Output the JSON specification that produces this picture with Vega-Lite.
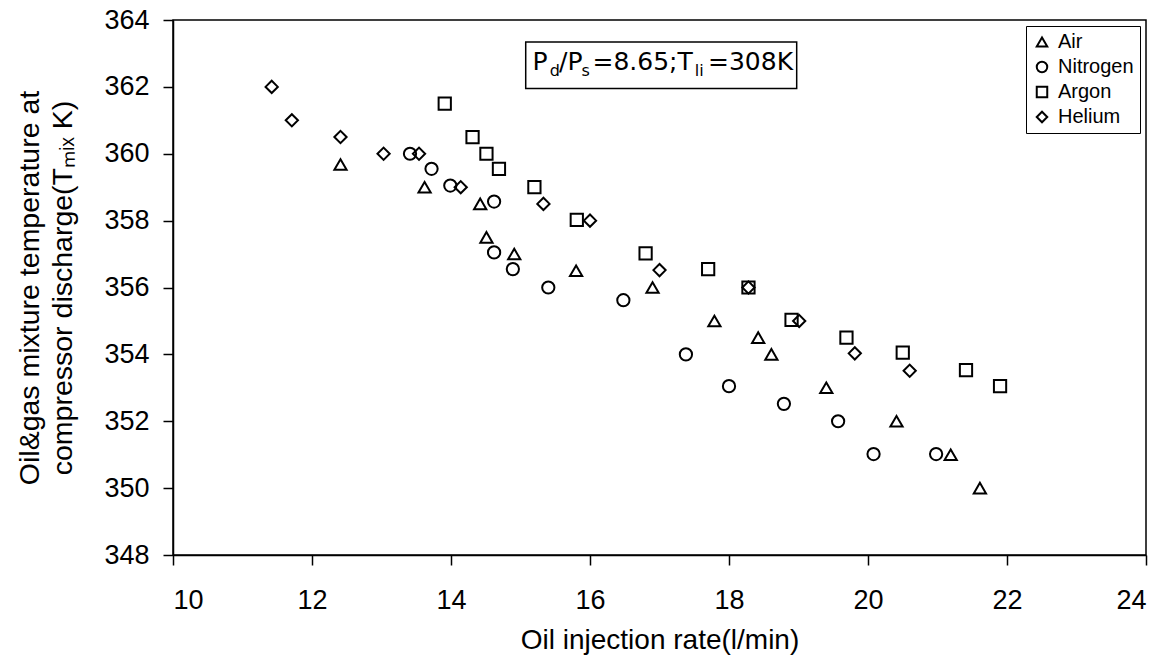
{
  "$schema": "https://vega.github.io/schema/vega-lite/v6.json",
  "width": 973,
  "height": 535,
  "autosize": {"type": "none"},
  "padding": {"left": 173, "top": 20, "right": 24, "bottom": 104},
  "background": "white",
  "config": {
    "view": {"stroke": "black", "strokeWidth": 1.5},
    "axis": {"grid": false, "domainColor": "black", "tickColor": "black", "labelColor": "black", "titleColor": "black", "domainWidth": 1.5, "tickWidth": 1.5, "titleFontWeight": "normal"}
  },
  "datasets": {
    "points": [
      {"gas": "Air", "x": 12.41, "y": 359.68},
      {"gas": "Air", "x": 13.62, "y": 359.0},
      {"gas": "Air", "x": 14.42, "y": 358.5},
      {"gas": "Air", "x": 14.51, "y": 357.5},
      {"gas": "Air", "x": 14.91, "y": 357.0},
      {"gas": "Air", "x": 15.8, "y": 356.5},
      {"gas": "Air", "x": 16.9, "y": 356.0},
      {"gas": "Air", "x": 17.79, "y": 355.0},
      {"gas": "Air", "x": 18.42, "y": 354.5},
      {"gas": "Air", "x": 18.61, "y": 354.0},
      {"gas": "Air", "x": 19.4, "y": 353.0},
      {"gas": "Air", "x": 20.41, "y": 352.0},
      {"gas": "Air", "x": 21.19, "y": 351.0},
      {"gas": "Air", "x": 21.61, "y": 350.0},
      {"gas": "Nitrogen", "x": 13.41, "y": 360.0},
      {"gas": "Nitrogen", "x": 13.72, "y": 359.55},
      {"gas": "Nitrogen", "x": 13.99, "y": 359.05},
      {"gas": "Nitrogen", "x": 14.62, "y": 358.57},
      {"gas": "Nitrogen", "x": 14.62, "y": 357.05},
      {"gas": "Nitrogen", "x": 14.89, "y": 356.55},
      {"gas": "Nitrogen", "x": 15.4, "y": 356.0},
      {"gas": "Nitrogen", "x": 16.48, "y": 355.62},
      {"gas": "Nitrogen", "x": 17.38, "y": 354.0},
      {"gas": "Nitrogen", "x": 18.0, "y": 353.05},
      {"gas": "Nitrogen", "x": 18.79, "y": 352.52},
      {"gas": "Nitrogen", "x": 19.57, "y": 352.0},
      {"gas": "Nitrogen", "x": 20.08, "y": 351.02},
      {"gas": "Nitrogen", "x": 20.98, "y": 351.02},
      {"gas": "Argon", "x": 13.91, "y": 361.5},
      {"gas": "Argon", "x": 14.31, "y": 360.5},
      {"gas": "Argon", "x": 14.51, "y": 360.0},
      {"gas": "Argon", "x": 14.69, "y": 359.55},
      {"gas": "Argon", "x": 15.2, "y": 359.0},
      {"gas": "Argon", "x": 15.81, "y": 358.02},
      {"gas": "Argon", "x": 16.8, "y": 357.02},
      {"gas": "Argon", "x": 17.7, "y": 356.55},
      {"gas": "Argon", "x": 18.28, "y": 356.0},
      {"gas": "Argon", "x": 18.9, "y": 355.03},
      {"gas": "Argon", "x": 19.69, "y": 354.5},
      {"gas": "Argon", "x": 20.5, "y": 354.05},
      {"gas": "Argon", "x": 21.41, "y": 353.53},
      {"gas": "Argon", "x": 21.9, "y": 353.05},
      {"gas": "Helium", "x": 11.42, "y": 362.0},
      {"gas": "Helium", "x": 11.71, "y": 361.0},
      {"gas": "Helium", "x": 12.41, "y": 360.5},
      {"gas": "Helium", "x": 13.03, "y": 360.0},
      {"gas": "Helium", "x": 13.54, "y": 360.0},
      {"gas": "Helium", "x": 14.14, "y": 359.0},
      {"gas": "Helium", "x": 15.33, "y": 358.5},
      {"gas": "Helium", "x": 16.0, "y": 358.0},
      {"gas": "Helium", "x": 17.0, "y": 356.52},
      {"gas": "Helium", "x": 18.28, "y": 356.0},
      {"gas": "Helium", "x": 19.01, "y": 355.0},
      {"gas": "Helium", "x": 19.81, "y": 354.03},
      {"gas": "Helium", "x": 20.6, "y": 353.51}
    ],
    "box": [{"x": 15.075, "xe": 18.974, "y": 363.34, "ye": 361.95}],
    "bigText": [
      {"t": "P", "x": 15.171, "y": 362.5},
      {"t": "/P", "x": 15.554, "y": 362.5},
      {"t": "=8.65;T", "x": 16.035, "y": 362.5},
      {"t": "=308K", "x": 17.698, "y": 362.5}
    ],
    "smallText": [
      {"t": "d", "x": 15.42, "y": 362.32},
      {"t": "s", "x": 15.876, "y": 362.32},
      {"t": "li", "x": 17.507, "y": 362.32}
    ]
  },
  "layer": [
    {
      "data": {"name": "points"},
      "mark": {"type": "point", "filled": false, "color": "black", "strokeWidth": 2, "size": 150, "opacity": 1},
      "encoding": {
        "x": {
          "field": "x", "type": "quantitative",
          "scale": {"domain": [10, 24], "nice": false, "zero": false},
          "axis": {"values": [10, 12, 14, 16, 18, 20, 22, 24], "format": "d", "tickSize": 10, "labelPadding": 22, "labelFont": "Liberation Sans", "labelFontSize": 27, "title": "Oil injection rate(l/min)", "titleFont": "Liberation Sans", "titleFontSize": 28, "titlePadding": 13}
        },
        "y": {
          "field": "y", "type": "quantitative",
          "scale": {"domain": [348, 364], "nice": false, "zero": false},
          "axis": {"values": [348, 350, 352, 354, 356, 358, 360, 362, 364], "format": "d", "tickSize": 10, "labelPadding": 14, "labelFont": "Liberation Sans", "labelFontSize": 27, "title": ["Oil&gas mixture temperature at", "compressor discharge(Tₘᵢₓ K)"], "titleFont": "Liberation Sans", "titleFontSize": 28.5, "titlePadding": 26, "titleLineHeight": 33}
        },
        "shape": {
          "field": "gas", "type": "nominal",
          "scale": {"domain": ["Air", "Nitrogen", "Argon", "Helium"], "range": ["triangle-up", "circle", "square", "diamond"]},
          "legend": {"title": null, "orient": "top-right", "offset": 6, "strokeColor": "black", "fillColor": "white", "padding": 6, "labelFont": "Liberation Sans", "labelFontSize": 20, "labelColor": "black", "symbolStrokeColor": "black", "symbolStrokeWidth": 2, "symbolSize": 110, "rowPadding": 5, "labelOffset": 6}
        }
      }
    },
    {
      "data": {"name": "box"},
      "mark": {"type": "rect", "fill": "white", "stroke": "black", "strokeWidth": 1.5},
      "encoding": {
        "x": {"field": "x", "type": "quantitative"},
        "x2": {"field": "xe"},
        "y": {"field": "y", "type": "quantitative"},
        "y2": {"field": "ye"}
      }
    },
    {
      "data": {"name": "bigText"},
      "mark": {"type": "text", "align": "left", "baseline": "alphabetic", "font": "DejaVu Sans", "fontSize": 25, "color": "black"},
      "encoding": {
        "x": {"field": "x", "type": "quantitative"},
        "y": {"field": "y", "type": "quantitative"},
        "text": {"field": "t"}
      }
    },
    {
      "data": {"name": "smallText"},
      "mark": {"type": "text", "align": "left", "baseline": "alphabetic", "font": "DejaVu Sans", "fontSize": 16, "color": "black"},
      "encoding": {
        "x": {"field": "x", "type": "quantitative"},
        "y": {"field": "y", "type": "quantitative"},
        "text": {"field": "t"}
      }
    }
  ]
}
